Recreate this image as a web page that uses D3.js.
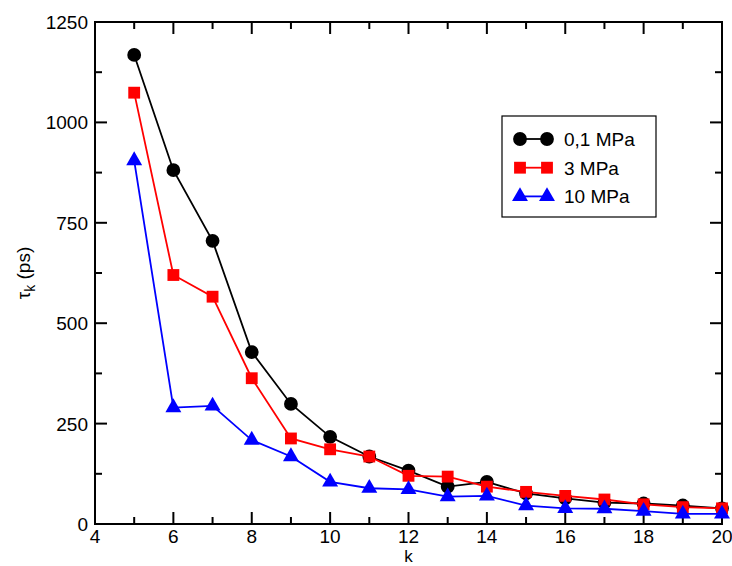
<!DOCTYPE html>
<html><head><meta charset="utf-8">
<script src="https://cdn.jsdelivr.net/npm/d3@7"></script>
<style>body{margin:0;background:#fff}svg{display:block}text{font-family:"Liberation Sans",Arial,sans-serif}</style>
</head><body><svg id="c" width="732" height="566"></svg>
<script>
const kValues = [5,6,7,8,9,10,11,12,13,14,15,16,17,18,19,20];
const tau01 = [1168,881,705,428,299,217,168,133,93,105,76,64,53,51,46,39];
const tau3 = [1074,620,566,363,213,186,168,120,118,93,80,70,61,49,42,39];
const tau10 = [905,290,294,209,168,105,89,86,68,70,46,39,38,32,25,25];
const seriesNames = ["0,1 MPa","3 MPa","10 MPa"];
const xTicks = [4,6,8,10,12,14,16,18,20];
const yTicks = [0,250,500,750,1000,1250];

const svg = d3.select("#c");
const L=95, R=722, T=22, B=524;
const x = d3.scaleLinear().domain([4,20]).range([L,R]);
const y = d3.scaleLinear().domain([0,1250]).range([B,T]);

const series = [
  {name:seriesNames[0], vals:tau01, color:"#000", shape:"circle"},
  {name:seriesNames[1], vals:tau3, color:"#f00", shape:"square"},
  {name:seriesNames[2], vals:tau10, color:"#00f", shape:"triangle"}
];
const sym = {circle:d3.symbol(d3.symbolCircle,150), square:d3.symbol(d3.symbolSquare,140), triangle:d3.symbol(d3.symbolTriangle,110)};

const g = svg.append("g");
const minorX = d3.range(4,21,1), minorY = d3.range(0,1251,125);
minorX.forEach(v=>{
  const len = v%2===0?12:7;
  g.append("line").attr("x1",x(v)).attr("x2",x(v)).attr("y1",B).attr("y2",B-len).attr("stroke","#000").attr("stroke-width",2);
  g.append("line").attr("x1",x(v)).attr("x2",x(v)).attr("y1",T).attr("y2",T+len).attr("stroke","#000").attr("stroke-width",2);
});
minorY.forEach(v=>{
  const len = v%250===0?12:7;
  g.append("line").attr("y1",y(v)).attr("y2",y(v)).attr("x1",L).attr("x2",L+len).attr("stroke","#000").attr("stroke-width",2);
  g.append("line").attr("y1",y(v)).attr("y2",y(v)).attr("x1",R).attr("x2",R-len).attr("stroke","#000").attr("stroke-width",2);
});
g.append("rect").attr("x",L).attr("y",T).attr("width",R-L).attr("height",B-T).attr("fill","none").attr("stroke","#000").attr("stroke-width",2);

xTicks.forEach(v=>g.append("text").attr("x",x(v)).attr("y",B+19).attr("text-anchor","middle").attr("font-size",19).text(v));
yTicks.forEach(v=>g.append("text").attr("x",L-7).attr("y",y(v)+7).attr("text-anchor","end").attr("font-size",19).text(v));

svg.append("text").attr("x",(L+R)/2).attr("y",562).attr("text-anchor","middle").attr("font-size",17).text("k");
const yl = svg.append("text").attr("transform","translate(30,"+((T+B)/2)+") rotate(-90)").attr("text-anchor","middle").attr("font-size",19);
yl.append("tspan").text("τ");
yl.append("tspan").attr("font-size",14).attr("dy",5).text("k");
yl.append("tspan").attr("dy",-5).text(" (ps)");

const line = d3.line().x((d,i)=>x(kValues[i])).y(d=>y(d));
series.forEach(s=>{
  svg.append("path").attr("d",line(s.vals)).attr("fill","none").attr("stroke",s.color).attr("stroke-width",1.8);
  svg.selectAll(null).data(s.vals).enter().append("path")
    .attr("d",sym[s.shape]).attr("transform",(d,i)=>`translate(${x(kValues[i])},${y(d)})`).attr("fill",s.color);
});

const lg = svg.append("g");
lg.append("rect").attr("x",502).attr("y",116).attr("width",154).attr("height",101).attr("fill","#fff").attr("stroke","#000").attr("stroke-width",1.2);
series.forEach((s,i)=>{
  const yy = 139 + i*28.7;
  lg.append("line").attr("x1",520).attr("x2",547).attr("y1",yy).attr("y2",yy).attr("stroke",s.color).attr("stroke-width",1.8);
  [520,547].forEach(xx=>lg.append("path").attr("d",sym[s.shape]).attr("transform",`translate(${xx},${yy})`).attr("fill",s.color));
  lg.append("text").attr("x",564).attr("y",yy+7).attr("font-size",19).text(s.name);
});
</script></body></html>
